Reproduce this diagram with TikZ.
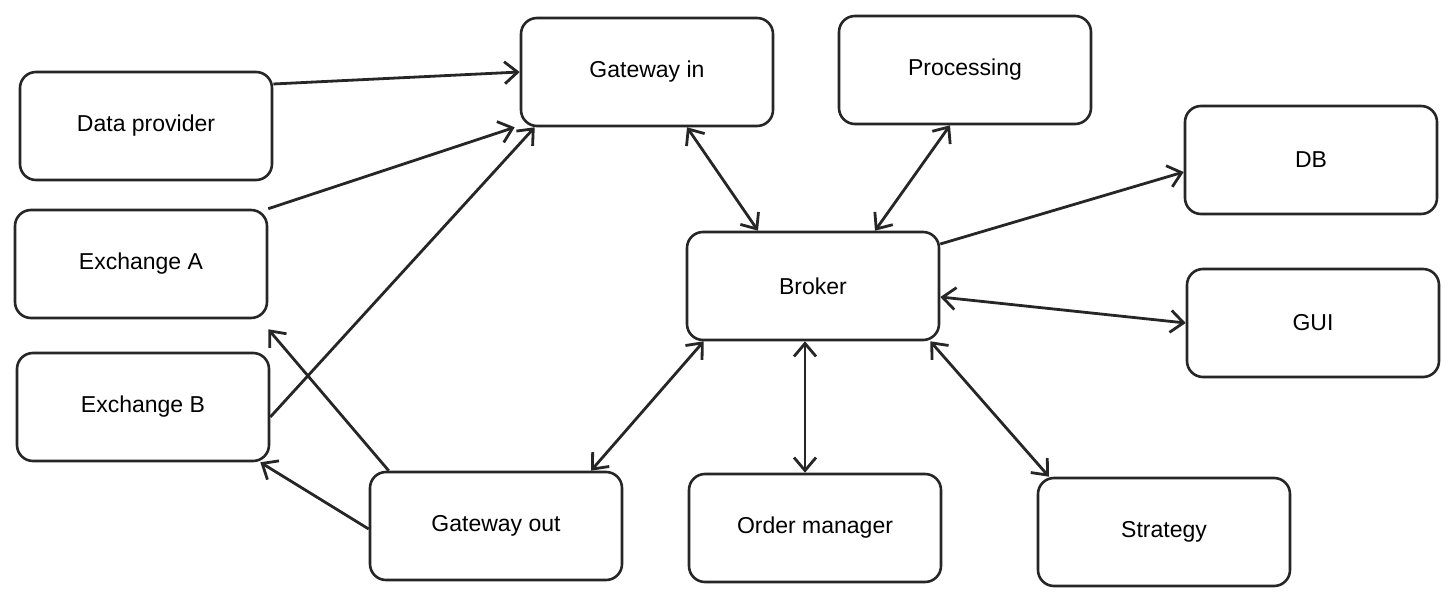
\documentclass[tikz,border=0pt]{standalone}
\usepackage{fontspec}
\setmainfont{Liberation Sans}
\usetikzlibrary{arrows.meta}
\begin{document}
\begin{tikzpicture}[x=1pt,y=-1pt,
  box/.style={draw=black!85,line width=2.6pt,rounded corners=16pt,minimum width=252pt,minimum height=108pt,font=\fontsize{23}{27}\selectfont,inner sep=0pt},
  con/.style={draw=black!85,line width=2.8pt,-{Straight Barb[length=13pt,width=22pt]}},
  bi/.style={con,{Straight Barb[length=13pt,width=22pt]}-{Straight Barb[length=13pt,width=22pt]}}]
\useasboundingbox (0,0) rectangle (1456,601);
\node[box] (dp) at (146,126) {Data provider};
\node[box] (gi) at (647,72) {Gateway in};
\node[box] (pr) at (965,70) {Processing};
\node[box] (db) at (1311,160) {DB};
\node[box] (ea) at (141,264) {Exchange A};
\node[box] (br) at (813,286) {Broker};
\node[box] (gui) at (1313,323) {GUI};
\node[box] (eb) at (143,407) {Exchange B};
\node[box] (go) at (496,526) {Gateway out};
\node[box] (om) at (815,528) {Order manager};
\node[box] (st) at (1164,532) {Strategy};
\draw[con] (dp.east |- 0,84) -- (gi.west |- 0,72);
\draw[con] (ea.north east) -- ([xshift=-5pt]gi.south west);
\draw[con] ([yshift=-10pt]eb.east) -- ([xshift=15pt]gi.south west);
\draw[bi] ([xshift=40pt]gi.south) -- ([xshift=-55pt]br.north);
\draw[bi] ([xshift=-15pt]pr.south) -- ([xshift=62pt]br.north);
\draw[con] ([yshift=42pt]br.east) -- (db.west |- 0,172);
\draw[bi] ([yshift=-11pt]br.east) -- (gui.west);
\draw[bi] ([xshift=18pt]br.south west) -- ([xshift=95pt]go.north);
\draw[bi] ([xshift=-8pt]br.south) -- ([xshift=-10pt]om.north);
\draw[bi] ([xshift=-10pt]br.south east) -- ([xshift=-115pt]st.north);
\draw[con] ([xshift=20pt]go.north west) -- ([yshift=-10pt]ea.south east);
\draw[con] ([yshift=-3pt]go.west) -- ([xshift=-10pt]eb.south east);
\end{tikzpicture}
\end{document}
